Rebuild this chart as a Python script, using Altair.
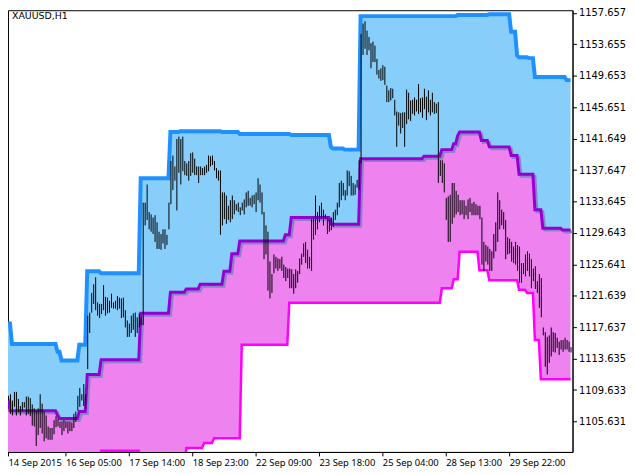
import altair as alt
import numpy as np
import pandas as pd

# ---------------- data ----------------
title_text = "XAUUSD,H1"

highs = [
    1110.6, 1109.4, 1108.9, 1109.1, 1108.3, 1109.4, 1109.4, 1108.5, 1107.6, 1108.1,
    1108.1, 1108.8, 1108.8, 1108.6, 1107.8, 1107.3, 1107.0, 1107.3, 1109.1, 1107.9,
    1106.9, 1106.4, 1105.0, 1104.8, 1104.8, 1105.8, 1106.3, 1106.0, 1105.6, 1105.6,
    1105.8, 1105.6, 1105.6, 1105.6, 1105.5, 1106.6, 1106.9, 1108.9, 1109.9, 1109.1,
    1110.4, 1109.1, 1119.1, 1119.5, 1122.0, 1123.1, 1124.0, 1120.8, 1120.6, 1120.6,
    1123.0, 1121.5, 1121.4, 1121.0, 1121.9, 1120.8, 1121.0, 1121.6, 1121.4, 1121.3,
    1121.4, 1119.8, 1118.5, 1118.1, 1119.1, 1119.4, 1119.5, 1118.9, 1119.4, 1118.9,
    1133.5, 1133.5, 1135.8, 1132.3, 1132.0, 1131.6, 1131.9, 1131.0, 1129.8, 1129.5,
    1130.1, 1130.1, 1129.4, 1133.5, 1138.8, 1139.5, 1138.1, 1141.6, 1141.9, 1141.6,
    1141.9, 1138.8, 1138.5, 1138.8, 1139.8, 1139.9, 1139.1, 1138.1, 1138.1, 1138.1,
    1137.9, 1138.1, 1138.3, 1139.5, 1139.4, 1139.5, 1138.8, 1137.9, 1137.6, 1137.6,
    1134.8, 1134.8, 1134.4, 1133.1, 1133.8, 1134.4, 1133.8, 1133.3, 1133.5, 1132.9,
    1133.5, 1133.9, 1134.8, 1135.0, 1134.1, 1134.4, 1134.5, 1134.8, 1136.6, 1135.8,
    1134.8, 1132.3, 1130.6, 1129.8, 1126.0, 1124.4, 1126.9, 1126.6, 1126.4, 1126.3,
    1126.6, 1125.6, 1125.3, 1125.1, 1125.1, 1125.0, 1124.4, 1125.0, 1124.8, 1126.4,
    1127.0, 1128.3, 1128.5, 1127.5, 1126.6, 1131.4, 1131.6, 1134.4, 1132.3, 1133.1,
    1133.5, 1132.6, 1132.0, 1131.6, 1131.3, 1131.6, 1132.3, 1132.6, 1133.5, 1136.0,
    1136.3, 1136.0, 1135.1, 1137.6, 1137.5, 1136.9, 1136.0, 1135.8, 1136.4, 1138.9,
    1155.0, 1156.3, 1156.6, 1155.4, 1154.6, 1153.8, 1154.0, 1153.5, 1151.8, 1150.4,
    1150.6, 1151.0, 1150.8, 1148.4, 1147.8, 1148.1, 1148.0, 1146.6, 1145.1, 1145.0,
    1144.9, 1145.0, 1145.0, 1147.9, 1147.5, 1146.5, 1146.6, 1146.9, 1146.6, 1148.6,
    1146.8, 1146.9, 1148.0, 1147.0, 1147.8, 1146.6, 1147.5, 1146.3, 1146.1, 1146.3,
    1138.9, 1138.9, 1138.5, 1134.1, 1134.3, 1134.5, 1136.0, 1136.0, 1135.0, 1134.5,
    1133.8, 1133.8, 1133.8, 1133.1, 1133.9, 1134.1, 1133.4, 1133.6, 1133.3, 1133.1,
    1133.1, 1131.6, 1128.5, 1128.1, 1127.9, 1127.6, 1127.3, 1129.5, 1131.0, 1134.8,
    1133.8, 1132.6, 1132.3, 1131.3, 1129.1, 1128.9, 1128.5, 1127.9, 1128.5, 1128.1,
    1127.9, 1125.8, 1125.8, 1126.9, 1127.3, 1127.0, 1126.3, 1125.1, 1125.4, 1123.5,
    1124.4, 1123.9, 1117.6, 1117.0, 1116.4, 1116.6, 1117.6, 1117.0, 1116.9, 1116.3,
    1115.8, 1116.0, 1116.0, 1116.3, 1116.0, 1115.8, 1115.1,
]

lows = [
    1108.1, 1108.1, 1108.3, 1106.6, 1106.4, 1107.5, 1106.4, 1106.8, 1106.4, 1107.0,
    1107.4, 1106.4, 1106.6, 1106.3, 1105.1, 1105.0, 1102.5, 1103.9, 1104.8, 1104.1,
    1103.1, 1103.5, 1103.3, 1103.3, 1103.3, 1104.0, 1104.9, 1105.0, 1104.8, 1103.9,
    1104.4, 1104.8, 1104.1, 1104.4, 1104.4, 1104.8, 1105.6, 1107.0, 1107.5, 1108.3,
    1107.6, 1107.3, 1112.3, 1116.9, 1119.5, 1120.6, 1119.8, 1119.1, 1118.8, 1119.3,
    1119.8, 1119.1, 1119.4, 1119.5, 1120.1, 1120.0, 1120.0, 1119.8, 1120.0, 1118.8,
    1118.9, 1117.6, 1116.4, 1116.4, 1116.9, 1117.3, 1116.4, 1116.9, 1117.6, 1117.9,
    1117.9, 1130.6, 1131.3, 1130.1, 1129.8, 1129.5, 1128.5, 1127.6, 1127.6, 1127.5,
    1128.3, 1127.6, 1128.1, 1130.1, 1133.3, 1135.1, 1136.3, 1132.5, 1137.3, 1135.8,
    1137.5, 1137.0, 1136.9, 1136.3, 1136.9, 1137.3, 1137.0, 1137.0, 1136.0, 1137.0,
    1137.0, 1137.0, 1137.3, 1137.5, 1138.1, 1138.3, 1137.6, 1136.6, 1136.3, 1129.4,
    1130.6, 1131.4, 1130.8, 1131.3, 1131.0, 1131.4, 1132.0, 1132.5, 1132.3, 1131.9,
    1132.5, 1132.0, 1132.9, 1133.1, 1133.1, 1132.9, 1133.3, 1132.3, 1133.8, 1133.5,
    1132.0, 1126.3, 1126.9, 1122.3, 1121.3, 1122.0, 1124.5, 1125.1, 1124.8, 1125.1,
    1124.8, 1123.9, 1123.5, 1123.9, 1122.6, 1122.6, 1121.9, 1122.6, 1123.3, 1124.4,
    1125.6, 1126.6, 1125.8, 1125.1, 1125.1, 1124.8, 1128.8, 1129.4, 1130.1, 1131.0,
    1131.4, 1130.6, 1131.4, 1129.5, 1129.8, 1130.0, 1130.4, 1131.3, 1131.9, 1132.9,
    1133.8, 1134.4, 1133.8, 1134.4, 1135.6, 1134.4, 1134.4, 1134.5, 1135.4, 1135.1,
    1138.5, 1152.3, 1153.1, 1152.3, 1152.9, 1150.6, 1151.4, 1151.4, 1149.8, 1149.3,
    1149.0, 1149.1, 1148.5, 1146.3, 1146.3, 1146.5, 1146.8, 1144.6, 1140.6, 1143.3,
    1142.3, 1143.0, 1140.6, 1143.5, 1144.1, 1143.9, 1144.8, 1144.6, 1145.1, 1144.8,
    1145.0, 1144.3, 1145.4, 1144.0, 1145.0, 1144.6, 1145.0, 1144.8, 1144.9, 1136.0,
    1136.9, 1136.0, 1134.8, 1131.3, 1128.5, 1128.5, 1130.8, 1131.6, 1132.0, 1132.3,
    1131.9, 1132.0, 1131.4, 1131.9, 1131.4, 1132.3, 1131.9, 1131.9, 1131.9, 1131.9,
    1131.4, 1125.6, 1124.8, 1126.0, 1125.6, 1124.8, 1124.8, 1126.4, 1127.3, 1128.5,
    1130.1, 1130.6, 1130.1, 1126.3, 1126.9, 1127.0, 1126.0, 1125.8, 1125.6, 1124.8,
    1123.3, 1123.3, 1124.4, 1124.1, 1124.8, 1124.1, 1122.6, 1123.5, 1122.5, 1122.0,
    1120.1, 1118.9, 1116.6, 1112.6, 1111.6, 1113.1, 1113.9, 1114.5, 1114.4, 1115.0,
    1114.1, 1114.8, 1114.5, 1114.8, 1114.8, 1114.5, 1114.4,
]

# channel lines: bar index where a level starts, and the level
upper_start = [-1, 0, 4, 27, 29, 38, 42, 49, 69, 84, 89, 110, 119, 145, 165, 166,
               172, 180, 229, 245, 256, 259, 260, 265, 268, 284]
upper_level = [1122.9, 1118.1, 1115.5, 1114.5, 1113.4, 1115.4, 1124.75, 1124.5,
               1136.6, 1142.5, 1142.6, 1142.5, 1142.25, 1142.1, 1140.6, 1140.4,
               1140.25, 1157.25, 1157.4, 1157.5, 1155.25, 1152.25, 1152.0, 1151.9,
               1149.5, 1149.1]

middle_start = [-1, 0, 3, 27, 28, 38, 42, 49, 69, 84, 92, 99, 111, 115, 119, 142,
                145, 165, 180, 212, 221, 227, 229, 230, 241, 245, 256, 260, 268,
                272, 282]
middle_level = [1110.6, 1108.4, 1107.0, 1106.4, 1106.0, 1106.9, 1111.6, 1113.5,
                1119.4, 1122.1, 1122.5, 1123.1, 1124.75, 1127.0, 1128.6, 1129.4,
                1131.6, 1130.75, 1139.1, 1139.4, 1140.25, 1141.0, 1142.0, 1142.5,
                1141.4, 1140.6, 1139.5, 1137.1, 1132.6, 1130.25, 1130.0]

lower_start = [-1, 49, 69, 92, 101, 106, 120, 144, 221, 227, 230, 240, 245,
               260, 264, 268, 271]
lower_level = [1099.0, 1101.9, 1099.0, 1102.25, 1102.9, 1103.5, 1115.4,
               1120.75, 1122.6, 1123.75, 1127.25, 1124.9, 1123.6, 1122.4, 1122.0,
               1116.0, 1111.0]

x_tick_bars = [2, 31, 63, 95, 127, 159, 191, 223, 255]
x_tick_labels = ["14 Sep 2015", "16 Sep 05:00", "17 Sep 14:00", "18 Sep 23:00",
                 "22 Sep 09:00", "23 Sep 18:00", "25 Sep 04:00", "28 Sep 13:00",
                 "29 Sep 22:00"]
y_ticks = [1157.657, 1153.655, 1149.653, 1145.651, 1141.649, 1137.647, 1133.645,
           1129.643, 1125.641, 1121.639, 1117.637, 1113.635, 1109.633, 1105.631]

# ---------------- tables ----------------
bars = pd.DataFrame({"bar": np.arange(len(highs)), "high": highs, "low": lows})

line_bars = np.arange(-1, len(highs))


def hold(starts, levels):
    pos = np.searchsorted(np.array(starts), line_bars, side="right") - 1
    return np.array(levels)[pos]


lines = pd.DataFrame({
    "bar": line_bars,
    "upper": hold(upper_start, upper_level),
    "middle": hold(middle_start, middle_level),
    "lower": hold(lower_start, lower_level),
})

# ---------------- encodings ----------------
label_expr = (
    "[" + ",".join("'%s'" % s for s in x_tick_labels) + "][indexof(["
    + ",".join(str(v) for v in x_tick_bars) + "], datum.value)]"
)

x_axis = alt.Axis(
    values=x_tick_bars, labelExpr=label_expr, title=None, grid=False,
    tickSize=4, tickColor="black", domainColor="black", labelColor="black",
    labelAlign="left", labelBaseline="top", labelPadding=2, labelFont="Noto Sans",
    labelFontSize=9.5, labelOverlap=False, labelFlush=False, labelBound=False,
)
y_axis = alt.Axis(
    values=y_ticks, format=".3f", orient="right", title=None, grid=False,
    tickSize=4, tickColor="black", domainColor="black", labelColor="black",
    labelPadding=2, labelFont="DejaVu Sans", labelFontSize=10,
    labelOverlap=False, labelFlush=False, labelBound=False,
)
x_scale = alt.Scale(domain=[2, 287], nice=False, zero=False)
y_scale = alt.Scale(domain=[1101.75, 1158.0], nice=False, zero=False)


def X():
    return alt.X("bar:Q", scale=x_scale, axis=x_axis)


def Y(field):
    return alt.Y(f"{field}:Q", scale=y_scale, axis=y_axis)


base = alt.Chart(lines)

area_blue = base.mark_area(color="#87CEFA", opacity=1, clip=True).encode(
    x=X(), y=Y("upper"), y2="middle")
area_pink = base.mark_area(color="#EE82EE", opacity=1, clip=True).encode(
    x=X(), y=Y("middle"), y2="lower")
shadow = base.mark_line(color="#8A84C6", strokeWidth=3, clip=True,
                        xOffset=2, yOffset=2).encode(x=X(), y=Y("middle"))
purple = base.mark_line(color="#9400D3", strokeWidth=3, clip=True).encode(
    x=X(), y=Y("middle"))
blue = base.mark_line(color="#1E90FF", strokeWidth=4, clip=True).encode(
    x=X(), y=Y("upper"))
magenta = base.mark_line(color="#FF00FF", strokeWidth=2.5, clip=True).encode(
    x=X(), y=Y("lower"))

bar_rules = alt.Chart(bars).mark_rule(color="black", strokeWidth=1, xOffset=0.5,
                                      clip=True).encode(
    x=X(), y=Y("high"), y2="low")

title = alt.Chart(pd.DataFrame({"t": [title_text]})).mark_text(
    align="left", baseline="top", font="DejaVu Sans", fontSize=9.5, color="black"
).encode(text="t:N", x=alt.value(4), y=alt.value(1))

chart = alt.layer(
    area_blue, area_pink, shadow, purple, blue, magenta, bar_rules, title
).properties(
    width=570, height=446,
    autosize=alt.AutoSizeParams(type="none"),
    padding={"left": 0, "top": 0, "right": 55, "bottom": 18},
    background="white",
).configure_view(stroke="black", strokeWidth=1)

chart.save("out.html", embed_options={"renderer": "svg", "actions": False})
